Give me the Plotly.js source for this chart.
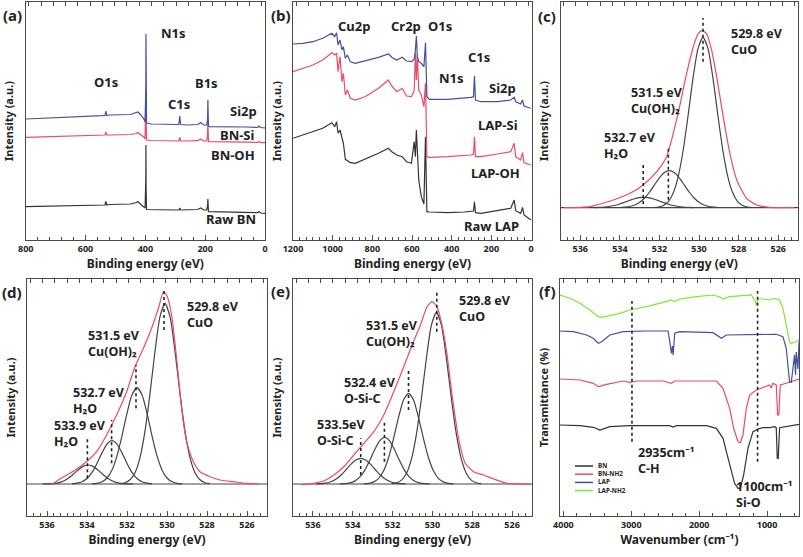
<!DOCTYPE html>
<html><head><meta charset="utf-8">
<script src="https://cdn.plot.ly/plotly-3.0.1.min.js"></script>
<style>html,body{margin:0;padding:0;background:#fff}#chart{width:803px;height:557px}</style>
</head><body><div id="chart"></div>
<script>
// ---------- (a) XPS survey BN ----------
const aBE = [800,700,600,545,535,532,529,520,450,430,425,415,405,401,398.5,398,397.5,396,380,300,288,285,282,260,225,215,205,195,192,191,190,189,186,150,100,60,25,20,15,0];
const aBlue = [121,122,123.3,124.3,124.5,129,124.5,125,125.5,127,128,125,121,118,150,206,140,117,116,115.5,115.5,124,115.5,115,115.5,117.5,115,115,120,140,120,114,113.3,113.3,113.5,113,112.5,114,112.5,112];
const aRed = [102.7,103.3,104,104.7,105,108,105,105,105.5,106.5,107.5,105,103,101,130,150.7,120,100,99.5,99,99,102.5,99,99,99.3,101,99,99,105,118.3,105,98.5,98.3,98.3,98,97.8,97.5,98.5,97.4,97.3];
const aBlack = [33.3,33.8,34.3,34.8,35,38.5,35,35.5,36,37.5,38.5,35.5,33,32,60,95,50,30.5,30.3,30,30,32,30,30,30.5,32,30,30,34,41,34,28.5,28.3,28.2,28,27.5,27.3,28.5,27,26.7];

// ---------- (b) XPS survey LAP ----------
const bBE = [1200,1150,1100,1050,1004,990,980,973,963,953,946,936,926,911,886,836,769,719,702,677,649,628,603,589,583,578,573,566,553,540,532,525,512,420,336,303,290,285,280,253,169,102,85,77,52,43,35,1];
const bBlue = [196,196.7,198.3,201.7,206.7,203.3,207.3,195,200,190,193.3,181.7,185,178.3,176.7,179,182.7,186,182.7,180,182.7,179,178.3,180.7,190,204,183.3,178.3,176.7,173.3,197.3,143.3,140.7,140.7,141.7,142.7,143.3,164,140,138.3,138.3,140,142.7,138.3,136,140,134,131.7];
const bRed = [168.3,171.7,175,180,187.3,185,186.7,168.3,183.3,158.3,166.7,145,150,141.7,140,143.3,151.7,160,154,148.3,151.7,144,143.3,149.3,186.7,160,185,150,145,133.3,156.7,83.3,82.7,83.3,84,85,85.7,103.3,83.3,83.3,86,88.3,96.7,83.3,80,87.3,77.3,75];
const bBlack = [101.7,105,108.3,111.7,117.3,113.3,118.3,106.7,110,100,96.7,80.7,79.3,77.3,76.7,80.7,86.7,91.7,88.3,85,83.3,78.3,76.7,98.3,83.3,110,93.3,60,43.3,36,103.3,28.3,28,27.3,28,28.3,29,38.3,27.3,26.7,29.3,31.7,40,29.3,26.7,32.7,25,20];

// ---------- (c) O1s LAP ----------
const cBaseX = [537,525];
const cBase = [0,0];
const cCuOX = [532.3,532.05,531.8,531.55,531.3,531.05,530.8,530.55,530.3,530.05,529.8,529.55,529.3,529.05,528.8,528.55,528.3,528.05,527.8,527.55,527.3];
const cCuO = [0.2,0.7,2.2,6.1,14.9,31.4,57.7,92.7,130,159.3,170.4,159.3,130,92.7,57.7,31.4,14.9,6.1,2.2,0.7,0.2];
const cOHX = [534,533.75,533.5,533.25,533,532.75,532.5,532.25,532,531.75,531.5,531.25,531,530.75,530.5,530.25,530,529.75,529.5,529.25,529];
const cOH = [0.2,0.5,1.2,2.7,5.4,9.7,15.7,22.9,29.9,35.1,37,35.1,29.9,22.9,15.7,9.7,5.4,2.7,1.2,0.5,0.2];
const cH2OX = [535.3,535.05,534.8,534.55,534.3,534.05,533.8,533.55,533.3,533.05,532.8,532.55,532.3,532.05,531.8,531.55,531.3,531.05,530.8,530.55,530.3];
const cH2O = [0.1,0.3,0.65,1.2,2.2,3.5,5.2,7.0,8.7,10.0,10.4,10.0,8.7,7.0,5.2,3.5,2.2,1.2,0.65,0.3,0.1];
const cEnvX = [536.8,536,535.5,535.17,534.33,533.49,532.82,532.14,531.64,531.05,530.63,530.29,530.04,529.84,529.62,529.37,529.11,528.78,528.44,528.1,527.6,527.09,526.42,525.2];
const cEnv = [0,0.3,1,2.7,7.7,14.4,22.7,36,51,95,134,161,174,177,174,158,131,91,54,28,9.4,2.7,0.4,0];
const cDotX = [529.8,531.55,532.82];
const cDotLo = [146,8,3.7];
const cDotHi = [189.7,61,45.4];

// ---------- (d) O1s ----------
const dBaseX = [537,525];
const dBase = [0,0];
const dCuOX = [532.35,532.1,531.85,531.6,531.35,531.1,530.85,530.6,530.35,530.1,529.85,529.6,529.35,529.1,528.85,528.6,528.35,528.1,527.85];
const dCuO = [0.4,1.3,4.2,11.3,26.4,52.8,90.4,132.8,167.3,180.7,167.3,132.8,90.4,52.8,26.4,11.3,4.2,1.3,0.4];
const dOHX = [533.75,533.5,533.25,533,532.75,532.5,532.25,532,531.75,531.5,531.25,531,530.75,530.5,530.25,530,529.75,529.5,529.25];
const dOH = [0.2,0.7,2.2,6.0,14.1,28.1,48.2,70.8,89.2,96.3,89.2,70.8,48.2,28.1,14.1,6.0,2.2,0.7,0.2];
const dH2OaX = [534.75,534.5,534.25,534,533.75,533.5,533.25,533,532.75,532.5,532.25,532,531.75,531.5,531.25,531,530.75];
const dH2Oa = [0.2,0.8,2.2,5.5,11.6,20.6,31.1,39.9,43.3,39.9,31.1,20.6,11.6,5.5,2.2,0.8,0.2];
const dH2ObX = [536.2,535.95,535.7,535.45,535.2,534.95,534.7,534.45,534.2,533.95,533.7,533.45,533.2,532.95,532.7,532.45,532.2,531.95,531.7];
const dH2Ob = [0.05,0.1,0.4,1.2,2.8,5.5,9.5,14,17.6,19,17.6,14,9.5,5.5,2.8,1.2,0.4,0.1,0.05];
const dEnvX = [535.8,535.68,535.35,534.85,534.35,533.98,533.52,533.02,532.52,532.02,531.6,531.18,530.77,530.43,530.18,530.02,529.77,529.52,529.27,529.02,528.68,528.35,527.85,527.35,526.68,526.02,525.4];
const dEnv = [0,0.7,5,10.7,17.3,23,32.3,49,69,92.3,117.3,135.7,155.7,175.7,192,189,169,125.7,75.7,42.3,22.3,12.3,7.3,4,2.3,0.7,0];
const dDotX = [530.15,531.55,532.77,533.98];
const dDotLo = [154,75.7,20.7,5.7];
const dDotHi = [195,119,64,45.7];

// ---------- (e) O1s ----------
const eBaseX = [537,525];
const eBase = [0,0];
const eCuOX = [532.05,531.8,531.55,531.3,531.05,530.8,530.55,530.3,530.05,529.8,529.55,529.3,529.05,528.8,528.55,528.3,528.05,527.8,527.55];
const eCuO = [0.3,1.2,3.9,10.7,25.1,50.1,85.9,126.2,159,171.7,159,126.2,85.9,50.1,25.1,10.7,3.9,1.2,0.3];
const eOHX = [533.45,533.2,532.95,532.7,532.45,532.2,531.95,531.7,531.45,531.2,530.95,530.7,530.45,530.2,529.95,529.7,529.45,529.2,528.95];
const eOH = [0.2,0.7,2.1,5.7,13.2,26.5,45.4,66.7,84,90.7,84,66.7,45.4,26.5,13.2,5.7,2.1,0.7,0.2];
const eSiaX = [534.65,534.4,534.15,533.9,533.65,533.4,533.15,532.9,532.65,532.4,532.15,531.9,531.65,531.4,531.15,530.9,530.65,530.4,530.15];
const eSia = [0.1,0.3,1.1,2.9,6.8,13.6,23.4,34.3,43.2,46.7,43.2,34.3,23.4,13.6,6.8,2.9,1.1,0.3,0.1];
const eSibX = [535.85,535.6,535.35,535.1,534.85,534.6,534.35,534.1,533.85,533.6,533.35,533.1,532.85,532.6,532.35,532.1,531.85,531.6,531.35];
const eSib = [0.1,0.3,0.9,2.2,4.7,8.7,14,19.6,24,25.7,24,19.6,14,8.7,4.7,2.2,0.9,0.3,0.1];
const eEnvX = [536.56,535.96,535.46,534.95,534.45,533.95,533.44,532.94,532.44,531.94,531.44,531.02,530.6,530.27,530.02,529.77,529.52,529.27,529.02,528.68,528.35,527.93,527.43,526.92,526.25,525.08];
const eEnv = [-1,0.7,3,9,17.3,29,40.7,52.3,69,92.3,117.3,139,159,177.3,182.3,177.3,159,130,90,45,20.7,12.3,9,5,0.7,-0.3];
const eDotX = [529.78,531.2,532.41,533.6];
const eDotLo = [152.3,74,22.3,9];
const eDotHi = [194,115.7,64,45.7];

// ---------- (f) FTIR ----------
const fGreenW = [4050,3903,3756,3609,3486,3437,3315,3168,3021,2776,2531,2409,2360,2286,2041,1796,1698,1650,1551,1306,1233,1170,1159,1135,1061,963,889,816,767,718,669,644,571,530];
const fGreen = [221,217.7,212.7,206,199.3,198.7,200.3,202.7,206,209.3,213.7,216,214.5,217,219.3,221,219,217,219.3,220.3,221,214,211,217,217,216,217.7,216,207.7,191,174.3,172.7,174.3,176];
const fBlueW = [4050,3854,3658,3560,3486,3437,3315,3119,2776,2458,2433,2409,2394,2384,2360,2286,1796,1698,1673,1600,1061,865,767,718,669,644,620,596,581,571,546,530];
const fBlue = [185,184.3,181,177.7,172.7,174.3,181,184.3,185,185,174.3,162.7,170,161,182.7,184.3,183.3,179.3,177.7,181,181,181.7,179.3,167.7,134.3,133.7,147,161,141,164,147,174.3];
const fRedW = [4050,3756,3560,3486,3364,3119,3021,2923,2531,2409,2360,2041,1747,1649,1551,1492,1428,1394,1355,1306,1257,1159,1061,963,940,914,865,845,826,806,718,530];
const fRed = [137,136,132.7,129.3,131.7,135,133.7,135,135,132.7,135,135,135,127.7,107.7,87.7,74.3,73.3,81,107.7,121,126,128.3,131,128,132.7,131,101,101,131,132.7,137];
const fBlackW = [4050,3756,3560,3462,3315,3021,2433,2384,2335,1894,1747,1649,1600,1527,1478,1428,1394,1345,1282,1208,1135,1061,963,889,865,850,836,816,718,530];
const fBlack = [91,90.3,88.7,86,89.3,90.3,90.3,89,90.3,90.3,87.7,77.7,64.3,44.3,32.7,27.7,27.7,41,67.7,84.3,87,88.3,88.3,89.3,88.3,57.7,57.7,88.3,89.3,91.7];
const fDotX = [2990,1140];
const fDotLo = [74.3,54.3];
const fDotHi = [215,225];
const fNames = ['BN','BN-NH2','LAP','LAP-NH2'];

// ---------- styling ----------
const FAM = 'Noto Sans, Open Sans, sans-serif';
const BLUE = '#42509e', RED = '#ee4a66', BLACK = '#333333', GREEN = '#7fe832', COMP = '#444444', TXT = '#222222', FRAME = '#4a4a4a';
const PW = 803, PH = 557;
const px = v => v / PW, py = v => 1 - v / PH;

function line(x, y, xa, ya, color, shape, w) {
  return {x, y, xaxis: xa, yaxis: ya, type: 'scatter', mode: 'lines',
    line: {color, width: w || 1.2, shape: shape || 'linear', smoothing: 0.6}, hoverinfo: 'skip', showlegend: false};
}
function dots(xs, lo, hi, xa, ya) {
  return xs.map((x, i) => ({x: [x, x], y: [lo[i], hi[i]], xaxis: xa, yaxis: ya, type: 'scatter', mode: 'lines',
    line: {color: TXT, width: 1.6, dash: 'dot'}, hoverinfo: 'skip', showlegend: false}));
}

const data = [
  line(aBE, aBlack, 'x', 'y', BLACK), line(aBE, aRed, 'x', 'y', RED), line(aBE, aBlue, 'x', 'y', BLUE),
  line(bBE, bBlack, 'x2', 'y2', BLACK), line(bBE, bRed, 'x2', 'y2', RED), line(bBE, bBlue, 'x2', 'y2', BLUE),
  line(cBaseX, cBase, 'x3', 'y3', COMP), line(cH2OX, cH2O, 'x3', 'y3', COMP, 'spline'),
  line(cOHX, cOH, 'x3', 'y3', COMP, 'spline'), line(cCuOX, cCuO, 'x3', 'y3', COMP, 'spline'),
  line(cEnvX, cEnv, 'x3', 'y3', RED, 'spline'),
  ...dots(cDotX, cDotLo, cDotHi, 'x3', 'y3'),
  line(dBaseX, dBase, 'x4', 'y4', COMP), line(dH2ObX, dH2Ob, 'x4', 'y4', COMP, 'spline'),
  line(dH2OaX, dH2Oa, 'x4', 'y4', COMP, 'spline'), line(dOHX, dOH, 'x4', 'y4', COMP, 'spline'),
  line(dCuOX, dCuO, 'x4', 'y4', COMP, 'spline'), line(dEnvX, dEnv, 'x4', 'y4', RED, 'spline'),
  ...dots(dDotX, dDotLo, dDotHi, 'x4', 'y4'),
  line(eBaseX, eBase, 'x5', 'y5', COMP), line(eSibX, eSib, 'x5', 'y5', COMP, 'spline'),
  line(eSiaX, eSia, 'x5', 'y5', COMP, 'spline'), line(eOHX, eOH, 'x5', 'y5', COMP, 'spline'),
  line(eCuOX, eCuO, 'x5', 'y5', COMP, 'spline'), line(eEnvX, eEnv, 'x5', 'y5', RED, 'spline'),
  ...dots(eDotX, eDotLo, eDotHi, 'x5', 'y5'),
  line(fBlackW, fBlack, 'x6', 'y6', BLACK), line(fRedW, fRed, 'x6', 'y6', RED),
  line(fBlueW, fBlue, 'x6', 'y6', BLUE), line(fGreenW, fGreen, 'x6', 'y6', GREEN),
  ...dots(fDotX, fDotLo, fDotHi, 'x6', 'y6')
];
// empty traces so the top tick axes exist
['x7','x8','x9','x10','x11','x12'].forEach((xa, i) => data.push({x: [], y: [], xaxis: xa, yaxis: i ? 'y' + (i + 1) : 'y', type: 'scatter', mode: 'lines', showlegend: false}));

const tickFont = {family: FAM, size: 9, color: TXT, weight: 'bold'};
const titleFont = {family: FAM, size: 12, color: TXT, weight: 'bold'};
function xa(dom, range, dtick, minor, anchor, title) {
  return {domain: dom, range, anchor, dtick, tick0: 0, ticks: 'inside', ticklen: 5, tickwidth: 1, tickcolor: FRAME,
    minor: {dtick: minor, ticks: 'inside', ticklen: 3, tickwidth: 1, tickcolor: FRAME},
    showline: true, linecolor: FRAME, linewidth: 1, mirror: true, showgrid: false, zeroline: false,
    tickfont: tickFont, automargin: false, title: {text: title, font: titleFont, standoff: 4}};
}
function ya(dom, range, anchor, title) {
  return {domain: dom, range, anchor, showline: true, linecolor: FRAME, linewidth: 1, mirror: true, ticks: '',
    showticklabels: false, showgrid: false, zeroline: false, automargin: false,
    title: {text: title, font: {family: FAM, size: 11, color: TXT, weight: 'bold'}, standoff: 8}};
}
function topAx(over, anchor) {
  return {overlaying: over, anchor, side: 'top', range: [-0.25, 19.25], dtick: 1, tick0: 0, ticks: 'inside', ticklen: 4,
    tickwidth: 1, tickcolor: FRAME, showticklabels: false, showline: false, showgrid: false, zeroline: false};
}
const TOP = [py(240), py(2)], BOT = [py(516), py(279)];
const BE = 'Binding energy (eV)', INT = 'Intensity (a.u.)';

const layout = {
  width: PW, height: PH, margin: {l: 0, r: 0, t: 0, b: 0}, paper_bgcolor: '#fff', plot_bgcolor: '#fff',
  showlegend: false, font: {family: FAM, color: TXT},
  xaxis: xa([px(25.7), px(265)], [800, 0], 200, 40, 'y', BE),
  xaxis2: xa([px(293), px(532)], [1200, -5], 200, 200 / 6, 'y2', BE),
  xaxis3: xa([px(560.5), px(798)], [537, 525], 2, 1 / 3, 'y3', BE),
  xaxis4: xa([px(27), px(267)], [537, 525], 2, 1 / 3, 'y4', BE),
  xaxis5: xa([px(293), px(532)], [537, 525], 2, 1 / 3, 'y5', BE),
  xaxis6: xa([px(560), px(799)], [4050, 530], 1000, 200, 'y6', 'Wavenumber (cm\u207B\u00B9)'),
  yaxis: ya(TOP, [0, 238], 'x', INT),
  yaxis2: ya(TOP, [0, 238], 'x2', INT),
  yaxis3: ya(TOP, [-32.3, 205.7], 'x3', INT),
  yaxis4: ya(BOT, [-32, 205], 'x4', INT),
  yaxis5: ya(BOT, [-32, 205], 'x5', INT),
  yaxis6: ya(BOT, [0, 237], 'x6', 'Transmittance (%)'),
  xaxis7: topAx('x', 'y'), xaxis8: topAx('x2', 'y2'), xaxis9: topAx('x3', 'y3'),
  xaxis10: topAx('x4', 'y4'), xaxis11: topAx('x5', 'y5'), xaxis12: topAx('x6', 'y6'),
  annotations: [], shapes: []
};

function note(text, x, y, size, anchor) {
  layout.annotations.push({text, xref: 'paper', yref: 'paper', x: px(x), y: py(y), xanchor: anchor || 'center',
    yanchor: 'middle', align: anchor || 'center', showarrow: false, borderpad: 0,
    font: {family: FAM, size: size || 13, color: TXT, weight: 'bold'}});
}
// panel letters
[['(a)', 13, 15], ['(b)', 281, 15], ['(c)', 547, 16], ['(d)', 12, 292], ['(e)', 280, 291], ['(f)', 547, 291]]
  .forEach(t => note(t[0], t[1], t[2], 15));
// (a)
[['O1s',106,82],['N1s',173,33],['C1s',179,104],['B1s',207,83],['Si2p',243,111],['BN-Si',237,135],['BN-OH',233,155],['Raw BN',231,219]]
  .forEach(t => note(t[0], t[1], t[2], 13));
// (b)
[['Cu2p',354,26],['Cr2p',406,26],['O1s',440,26],['C1s',479,57],['N1s',451,78],['Si2p',503,88],['LAP-Si',498,125],['LAP-OH',495,173],['Raw LAP',491,226]]
  .forEach(t => note(t[0], t[1], t[2], 13));
// (c)-(f) two-line peak labels, left aligned (x, y of block centre)
const SUB2 = '\u2082', SUPM1 = '\u207B\u00B9';
[['529.8 eV<br>CuO',730,41.5],['531.5 eV<br>Cu(OH)' + SUB2,630,101],['532.7 eV<br>H' + SUB2 + 'O',603,145.5],
 ['529.8 eV<br>CuO',186,314.5],['531.5 eV<br>Cu(OH)' + SUB2,87,343.5],['532.7 eV<br>H' + SUB2 + 'O',72,400],['533.9 eV<br>H' + SUB2 + 'O',53,433.5],
 ['529.8 eV<br>CuO',458,308.5],['531.5 eV<br>Cu(OH)' + SUB2,365,333.5],['532.4 eV<br>O-Si-C',343,390.5],['533.5eV<br>O-Si-C',316,432.5],
 ['2935cm' + SUPM1 + '<br>C-H',637,460],['1100cm' + SUPM1 + '<br>Si-O',735,494.5]]
  .forEach(t => note(t[0], t[1], t[2], 12.5, 'left'));
// (f) key
const fCols = [BLACK, RED, BLUE, GREEN];
const keyRows = [466, 474.2, 482.4, 490.6];
fNames.forEach((n, i) => {
  layout.shapes.push({type: 'line', xref: 'paper', yref: 'paper', x0: px(575), x1: px(593), y0: py(keyRows[i]), y1: py(keyRows[i]),
    line: {color: fCols[i], width: 1.5}});
});
note(fNames.join('<br>'), 597, (keyRows[0] + keyRows[3]) / 2, 6.3, 'left');

Plotly.newPlot('chart', data, layout, {staticPlot: true, displayModeBar: false});
</script></body></html>
